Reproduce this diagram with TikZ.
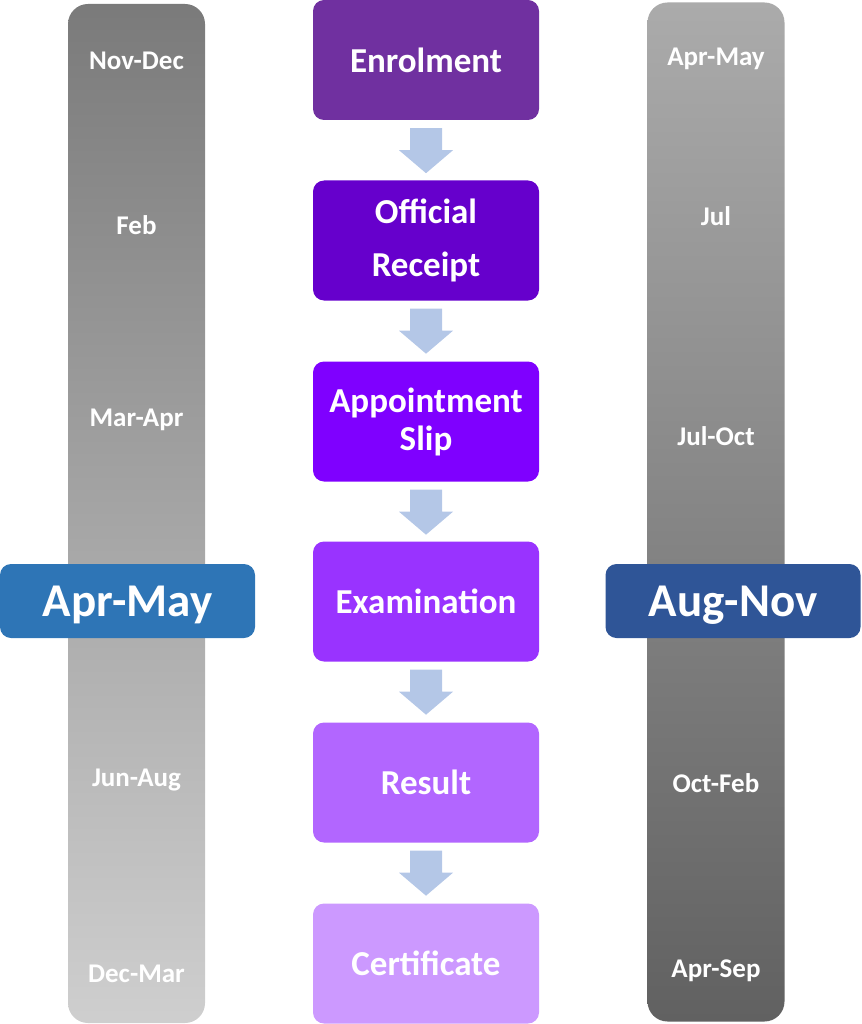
\documentclass[tikz,border=0pt]{standalone}
\usepackage{fontspec}
\setmainfont{Carlito}
\usetikzlibrary{calc}
\definecolor{cEnrol}{HTML}{7030A0}
\definecolor{cReceipt}{HTML}{6600CC}
\definecolor{cSlip}{HTML}{7F00FF}
\definecolor{cExam}{HTML}{9933FF}
\definecolor{cResult}{HTML}{B266FF}
\definecolor{cCert}{HTML}{CC99FF}
\definecolor{cArrow}{HTML}{B4C7E7}
\definecolor{cLeftBlue}{HTML}{2E75B6}
\definecolor{cRightBlue}{HTML}{2F5597}
\begin{document}
\begin{tikzpicture}[x=1pt,y=-1pt,
  colbar/.style={rounded corners=20pt, minimum width=137pt, minimum height=1019pt, inner sep=0pt},
  collabel/.style={text=white, font=\bfseries\fontsize{27}{29}\selectfont, inner sep=0pt},
  stepbox/.style={rounded corners=11pt, minimum width=226pt, minimum height=120pt, inner sep=0pt,
    text=white, align=center, font=\bfseries\fontsize{35}{38}\selectfont},
  periodbox/.style={rounded corners=11pt, minimum width=255pt, minimum height=74pt, inner sep=0pt,
    text=white, font=\bfseries\fontsize{47}{50}\selectfont},
  periodtext/.style={text=white, font=\bfseries\fontsize{47}{50}\selectfont, inner sep=0pt},
  arrowfill/.style={fill=cArrow}
]
\useasboundingbox (0,0) rectangle (861,1024);
% side columns
\node[colbar, top color=black!52, bottom color=black!19] (lcol) at (136.5,513.5) {};
\node[colbar, top color=black!33, bottom color=black!62] (rcol) at (716,512) {};
% left labels
\node[collabel] (l1) at (136.5,61) {Nov-Dec};
\node[collabel] (l2) at (136.5,225) {Feb};
\node[collabel] (l3) at (136.5,420) {Mar-Apr};
\node[collabel] (l4) at (136.5,780) {Jun-Aug};
\node[collabel] (l5) at (136.5,974) {Dec-Mar};
% right labels
\node[collabel] (r1) at (716,59) {Apr-May};
\node[collabel] (r2) at (716,216) {Jul};
\node[collabel] (r3) at (716,436) {Jul-Oct};
\node[collabel] (r4) at (716,783) {Oct-Feb};
\node[collabel] (r5) at (716,971) {Apr-Sep};
% period boxes
\node[periodbox, fill=cLeftBlue] (pl) at (127.5,601) {};
\node[periodtext] (plt) at ($(pl.center)+(0,4)$) {Apr-May};
\node[periodbox, fill=cRightBlue] (pr) at (733,601) {};
\node[periodtext] (prt) at ($(pr.center)+(0,4)$) {Aug-Nov};
% steps
\node[stepbox, fill=cEnrol] (b1) at (426,60) {Enrolment};
\node[stepbox, fill=cReceipt, font=\bfseries\fontsize{35}{53}\selectfont] (b2) at (426,240.5) {Official\\Receipt};
\node[stepbox, fill=cSlip] (b3) at (426,421.5) {Appointment\\Slip};
\node[stepbox, fill=cExam] (b4) at (426,601.5) {Examination};
\node[stepbox, fill=cResult] (b5) at (426,782.5) {Result};
\node[stepbox, fill=cCert] (b6) at (426,963.5) {Certificate};
% block arrows
\foreach \i/\j in {1/2,2/3,3/4,4/5,5/6}{
  \coordinate (t\i) at ($(b\i.south)+(0,8)$);
  \fill[arrowfill] ($(t\i)+(-16,0)$) -- ($(t\i)+(16,0)$) -- ($(t\i)+(16,22)$) -- ($(t\i)+(27,22)$)
    -- ($(t\i)+(0,45)$) -- ($(t\i)+(-27,22)$) -- ($(t\i)+(-16,22)$) -- cycle;
}
\end{tikzpicture}
\end{document}
